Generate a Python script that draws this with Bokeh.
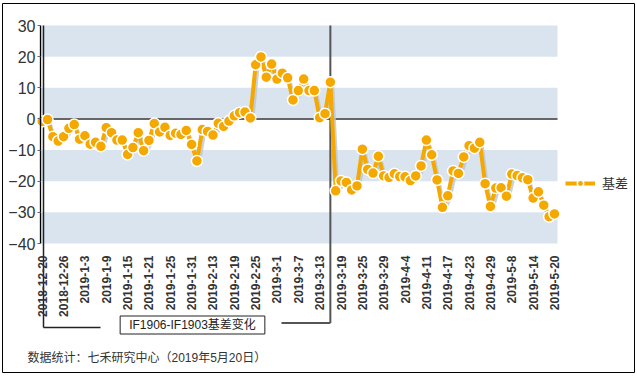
import math
from bokeh.plotting import figure
from bokeh.models import (Range1d, FixedTicker, BoxAnnotation, Label,
                          Legend, LegendItem, ColumnDataSource)
from bokeh.transform import dodge
from bokeh.embed import file_html
from bokeh.resources import INLINE

# ---------------- data ----------------
dates = [
    "2018-12-20", "2018-12-21", "2018-12-24", "2018-12-25", "2018-12-26", "2018-12-27", "2018-12-28",
    "2019-1-2", "2019-1-3", "2019-1-4", "2019-1-7", "2019-1-8", "2019-1-9", "2019-1-10", "2019-1-11",
    "2019-1-14", "2019-1-15", "2019-1-16", "2019-1-17", "2019-1-18", "2019-1-21", "2019-1-22",
    "2019-1-23", "2019-1-24", "2019-1-25", "2019-1-28", "2019-1-29", "2019-1-30", "2019-1-31",
    "2019-2-1", "2019-2-11", "2019-2-12", "2019-2-13", "2019-2-14", "2019-2-15", "2019-2-18",
    "2019-2-19", "2019-2-20", "2019-2-21", "2019-2-22", "2019-2-25", "2019-2-26", "2019-2-27",
    "2019-2-28", "2019-3-1", "2019-3-4", "2019-3-5", "2019-3-6", "2019-3-7", "2019-3-8",
    "2019-3-11", "2019-3-12", "2019-3-13", "2019-3-14", "2019-3-15", "2019-3-18", "2019-3-19",
    "2019-3-20", "2019-3-21", "2019-3-22", "2019-3-25", "2019-3-26", "2019-3-27", "2019-3-28",
    "2019-3-29", "2019-4-1", "2019-4-2", "2019-4-3", "2019-4-4", "2019-4-8", "2019-4-9",
    "2019-4-10", "2019-4-11", "2019-4-12", "2019-4-15", "2019-4-16", "2019-4-17", "2019-4-18",
    "2019-4-19", "2019-4-22", "2019-4-23", "2019-4-24", "2019-4-25", "2019-4-26", "2019-4-29",
    "2019-4-30", "2019-5-6", "2019-5-7", "2019-5-8", "2019-5-9", "2019-5-10", "2019-5-13",
    "2019-5-14", "2019-5-15", "2019-5-16", "2019-5-17", "2019-5-20",
]

values = [
    -0.8, -0.2, -5.7, -7.1, -5.7, -3.0, -1.8, -6.5, -5.4, -8.1,
    -7.5, -8.8, -2.8, -4.4, -6.8, -6.8, -11.4, -9.2, -4.4, -10.2,
    -6.9, -1.5, -4.2, -2.7, -5.3, -4.6, -5.0, -3.7, -8.2, -13.5,
    -3.4, -4.0, -5.2, -1.4, -2.4, -0.7, 1.0, 2.0, 2.2, 0.3,
    17.4, 19.9, 13.4, 17.6, 12.8, 14.7, 13.2, 6.1, 9.1, 12.8,
    9.1, 9.1, 0.4, 1.7, 11.8, -23.1, -19.9, -20.4, -22.8, -21.5,
    -9.7, -16.2, -17.4, -12.0, -18.3, -18.8, -17.6, -18.5, -18.6, -19.8,
    -18.3, -15.1, -6.8, -11.5, -19.6, -28.4, -24.7, -16.7, -17.5, -12.2,
    -8.6, -9.4, -7.5, -20.8, -28.1, -22.2, -22.1, -24.8, -17.7, -18.2,
    -18.9, -19.5, -25.4, -23.4, -27.7, -31.4, -30.5,
]

tick_step = 4
tick_labels = dates[::tick_step]
y_ticks = [-40, -30, -20, -10, 0, 10, 20, 30]
series_name = "基差"
box_title = "IF1906-IF1903基差变化"
footnote = "数据统计：七禾研究中心（2019年5月20日）"
switch_date = "2019-3-15"

# ---------------- style / layout (pixels) ----------------
ORANGE = "#F5A800"
BAND = "#DAE4EF"
SHADOW = "#BCC5CF"
LATIN = "'Liberation Sans', Arial, sans-serif"
MIXED = "'Liberation Sans', 'Noto Sans CJK SC', sans-serif"

W, H = 636, 375
FRAME_L, FRAME_T, FRAME_R, FRAME_B = 2, 3, 634, 372      # outer bordered box
PLOT_L, PLOT_R, PLOT_T, PLOT_B = 40, 557, 25, 243        # banded plot area

n = len(values)
xs = list(range(n))
switch_idx = dates.index(switch_date)

x_lo, x_hi = -0.32, n - 1 + 0.57
y_lo, y_hi = y_ticks[0], y_ticks[-1]
kx = (PLOT_R - PLOT_L) / (x_hi - x_lo)
ky = (PLOT_B - PLOT_T) / (y_hi - y_lo)
x_start = x_lo - (PLOT_L - FRAME_L) / kx
x_end = x_hi + (FRAME_R - PLOT_R) / kx
y_start = y_lo - (FRAME_B - PLOT_B) / ky
y_end = y_hi + (PLOT_T - FRAME_T) / ky


def ux(px):
    return x_start + (px - FRAME_L) / kx


def uy(py):
    return y_end - (py - FRAME_T) / ky


src = ColumnDataSource(dict(x=xs, y=values))

p = figure(frame_width=FRAME_R - FRAME_L, frame_height=FRAME_B - FRAME_T,
           min_border_left=FRAME_L, min_border_right=W - FRAME_R,
           min_border_top=FRAME_T, min_border_bottom=H - FRAME_B,
           x_range=Range1d(x_start, x_end), y_range=Range1d(y_start, y_end),
           output_backend="svg", toolbar_location=None,
           background_fill_color="white", border_fill_color="white",
           outline_line_color="black", outline_line_width=1)

p.xgrid.visible = False
p.ygrid.visible = False

# alternating bands
for lo, hi in zip(y_ticks[::2], y_ticks[1::2]):
    p.add_layout(BoxAnnotation(left=x_lo, right=x_hi, bottom=lo, top=hi,
                               fill_color=BAND, fill_alpha=1,
                               line_color=None, level="underlay"))

# zero line
p.segment(x0=[x_lo], y0=[0], x1=[x_hi], y1=[0], line_color="#666666", line_width=2)

# bracket (left part black, right part grey)
yl, yr = uy(327), uy(322.5)
p.segment(x0=[ux(43), ux(43)], y0=[y_hi, yl], x1=[ux(43), ux(100)], y1=[yl, yl],
          line_color="#222222", line_width=1.5)
p.segment(x0=[switch_idx, ux(281)], y0=[y_hi, yr], x1=[switch_idx, switch_idx], y1=[yr, yr],
          line_color="#555555", line_width=2)

# series
p.line(x=dodge("x", 0.35, range=None), y=dodge("y", -0.9, range=None), source=src,
       line_color=SHADOW, line_width=4, line_alpha=0.8)
line_r = p.line("x", "y", source=src, line_color=ORANGE, line_width=4)
pts_r = p.scatter("x", "y", source=src, size=11, fill_color=ORANGE,
                  line_color="white", line_width=1.5)

# axes drawn inside the bordered box
xa = p.xaxis[0]
tick_pos = list(range(0, n, tick_step))
xa.fixed_location = y_lo
xa.ticker = FixedTicker(ticks=tick_pos)
xa.major_label_overrides = {t: lab for t, lab in zip(tick_pos, tick_labels)}
xa.major_label_orientation = math.pi / 2
xa.major_label_text_font = LATIN
xa.major_label_text_font_size = "12px"
xa.major_label_text_font_style = "bold"
xa.major_label_text_color = "#333333"
xa.major_label_standoff = 6
xa.axis_line_color = None
xa.major_tick_line_color = None
xa.minor_tick_line_color = None

ya = p.yaxis[0]
ya.fixed_location = x_lo
ya.bounds = (y_lo, y_hi)
ya.ticker = FixedTicker(ticks=y_ticks)
ya.major_label_text_font = LATIN
ya.major_label_text_font_size = "16px"
ya.major_label_text_color = "#333333"
ya.major_label_standoff = 2
ya.axis_line_color = "black"
ya.axis_line_width = 1.3
ya.major_tick_out = 3
ya.major_tick_in = 0
ya.major_tick_line_color = "#666666"
ya.minor_tick_line_color = None

# texts
p.add_layout(Label(x=ux(192), y=uy(324.5), text=box_title,
                   text_align="center", text_baseline="middle", text_font=MIXED,
                   text_font_size="12px", text_color="#222222",
                   border_line_color="#222222", border_line_width=1,
                   background_fill_color="white", padding=(9, 9, 2, 2)))

p.add_layout(Label(x=ux(27), y=uy(357), text=footnote,
                   text_align="left", text_baseline="middle", text_font=MIXED,
                   text_font_size="12px", text_color="#333333"))

legend = Legend(items=[LegendItem(label=series_name, renderers=[line_r, pts_r])],
                location=(565 - FRAME_L, FRAME_B - 192), orientation="vertical",
                border_line_color=None, background_fill_alpha=0,
                padding=0, margin=0, spacing=0,
                glyph_width=30, glyph_height=16, label_height=16, label_standoff=7,
                label_text_font=MIXED, label_text_font_size="13px",
                label_text_color="#333333")
p.add_layout(legend)

open("out.html", "w").write(file_html(p, INLINE))
